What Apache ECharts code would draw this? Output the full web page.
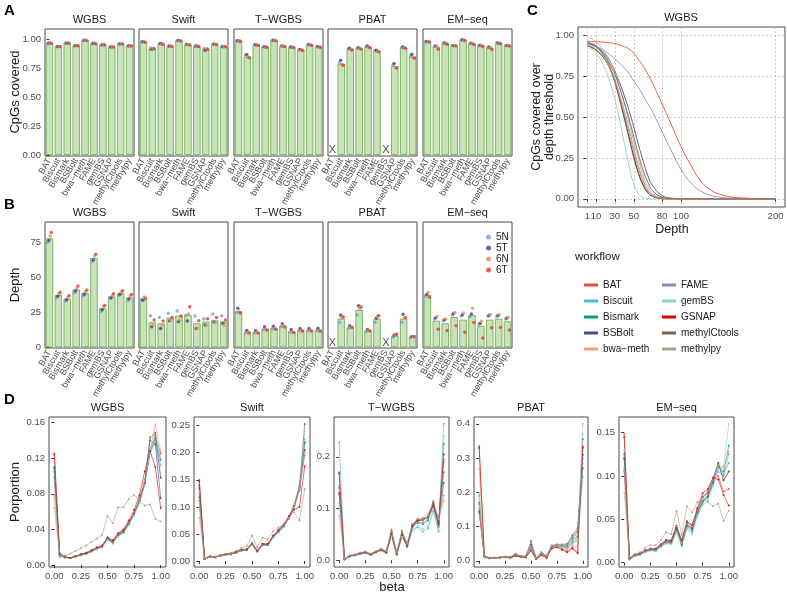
<!DOCTYPE html>
<html>
<head>
<meta charset="utf-8">
<script src="https://cdn.jsdelivr.net/npm/echarts@6/dist/echarts.min.js"></script>
<style>
html, body { margin: 0; padding: 0; background: #fff; }
#main { width: 787px; height: 596px; }
</style>
</head>
<body>
<div id="main"></div>
<script>
// ---- data ----
const workflows = ['BAT', 'Biscuit', 'Bismark', 'BSBolt', 'bwa\u2212meth', 'FAME', 'gemBS', 'GSNAP', 'methylCtools', 'methylpy'];
const datasets = ['WGBS', 'Swift', 'T\u2212WGBS', 'PBAT', 'EM\u2212seq'];
const samples = ['5N', '5T', '6N', '6T'];

// A: CpGs covered (bar = mean, points = samples 5N,5T,6N,6T)
const covWGBS = [0.966, 0.937, 0.966, 0.945, 0.99, 0.963, 0.951, 0.934, 0.96, 0.943];
const covWGBSPts = [
  [0.964, 0.935, 0.964, 0.943, 0.989, 0.961, 0.949, 0.932, 0.958, 0.941],
  [0.968, 0.938, 0.968, 0.947, 0.992, 0.965, 0.953, 0.935, 0.962, 0.945],
  [0.967, 0.938, 0.967, 0.946, 0.991, 0.964, 0.952, 0.935, 0.961, 0.944],
  [0.965, 0.937, 0.965, 0.944, 0.988, 0.962, 0.950, 0.934, 0.959, 0.942]
];
const covSwift = [0.977, 0.92, 0.96, 0.94, 0.988, 0.954, 0.94, 0.914, 0.957, 0.937];
const covSwiftPts = [
  [0.978, 0.925, 0.962, 0.941, 0.989, 0.957, 0.942, 0.92, 0.958, 0.94],
  [0.979, 0.913, 0.963, 0.942, 0.99, 0.956, 0.941, 0.905, 0.959, 0.935],
  [0.976, 0.923, 0.958, 0.939, 0.987, 0.952, 0.939, 0.918, 0.956, 0.938],
  [0.975, 0.919, 0.957, 0.938, 0.986, 0.951, 0.938, 0.913, 0.955, 0.935]
];
const covTWGBS = [0.986, 0.85, 0.951, 0.934, 0.99, 0.94, 0.931, 0.908, 0.951, 0.934];
const covTWGBSPts = [
  [0.987, 0.862, 0.952, 0.935, 0.991, 0.942, 0.933, 0.91, 0.953, 0.936],
  [0.988, 0.868, 0.953, 0.936, 0.992, 0.943, 0.934, 0.911, 0.954, 0.937],
  [0.985, 0.845, 0.95, 0.933, 0.989, 0.939, 0.93, 0.906, 0.95, 0.932],
  [0.984, 0.84, 0.949, 0.932, 0.988, 0.938, 0.929, 0.905, 0.949, 0.931]
];
const covPBAT = [null, 0.79, 0.914, 0.922, 0.934, 0.899, null, 0.769, 0.928, 0.85];
const covPBATPts = [
  [null, 0.8, 0.918, 0.925, 0.938, 0.903, null, 0.778, 0.931, 0.858],
  [null, 0.818, 0.922, 0.927, 0.941, 0.906, null, 0.79, 0.933, 0.87],
  [null, 0.78, 0.909, 0.919, 0.929, 0.895, null, 0.755, 0.925, 0.84],
  [null, 0.775, 0.907, 0.917, 0.928, 0.893, null, 0.753, 0.923, 0.838]
];
const covEMseq = [0.98, 0.937, 0.966, 0.945, 0.994, 0.963, 0.945, 0.928, 0.966, 0.945];
const covEMseqPts = [
  [0.981, 0.94, 0.968, 0.946, 0.995, 0.965, 0.947, 0.932, 0.967, 0.946],
  [0.982, 0.942, 0.969, 0.947, 0.996, 0.966, 0.948, 0.934, 0.968, 0.947],
  [0.98, 0.94, 0.967, 0.946, 0.994, 0.964, 0.946, 0.93, 0.967, 0.946],
  [0.976, 0.915, 0.958, 0.941, 0.989, 0.955, 0.938, 0.915, 0.961, 0.941]
];

// B: depth
const depWGBS = [78.2, 37.5, 35, 41.5, 39, 64, 28, 36.5, 38.8, 35.8];
const depWGBSPts = [
  [75.2, 35.6, 33, 39.3, 37, 61.5, 25.8, 34.8, 37.2, 33.8],
  [76.5, 36.5, 34, 40.3, 38, 62.5, 27, 35.5, 38, 34.7],
  [79.8, 38.6, 36, 42.5, 40, 65.4, 29.2, 37.3, 39.5, 36.8],
  [82.3, 39.3, 37, 44, 41.1, 66.6, 30, 38.4, 40.5, 37.9]
];
const depSwift = [34.4, 17.9, 17.2, 21.3, 22.7, 23.2, 17.2, 18.4, 19.3, 18.4];
const depSwiftPts = [
  [34.2, 22.7, 21.3, 24.4, 26, 23, 22.5, 20.5, 23.9, 22.7],
  [33.8, 14.8, 13.4, 19.1, 18.4, 18.9, 13.4, 16, 18.2, 17.2],
  [36.1, 16, 15.5, 19.6, 19.6, 23.9, 13.6, 15.8, 17.8, 15.6],
  [35.1, 19.6, 18.9, 21.3, 22.5, 29.1, 19.1, 20.5, 21.3, 19.6]
];
const depTWGBS = [25.8, 10.7, 10.7, 13.1, 13.6, 15.3, 11.2, 12.2, 12.2, 12.2];
const depTWGBSPts = [
  [25, 10.2, 10.3, 12.8, 13.2, 14.8, 10.8, 11.8, 11.8, 11.8],
  [28, 12, 11.8, 14.8, 15, 16.8, 12.8, 13.5, 13.5, 13.6],
  [25.5, 10.6, 10.6, 12.6, 13.3, 15.5, 10.8, 11.9, 12, 11.9],
  [24.5, 10.2, 10.2, 12.4, 12.9, 14.6, 10.6, 11.7, 11.6, 11.7]
];
const depPBAT = [null, 20.5, 14.1, 26.7, 11.7, 20.5, null, 8.4, 20.5, 7.4];
const depPBATPts = [
  [null, 17.9, 13.6, 23.2, 11.2, 17.9, null, 7.2, 17.9, 7],
  [null, 23.2, 15.5, 29.8, 12.8, 21, null, 8.8, 23.6, 7.8],
  [null, 21.2, 14, 27.9, 12, 22.2, null, 9.2, 20.8, 7.5],
  [null, 21.7, 14.3, 28.9, 11.6, 22.8, null, 9.4, 21.3, 7.7]
];
const depEMseq = [37.5, 19.1, 17.2, 21.7, 19.8, 23.2, 15.3, 19.8, 20.5, 18.6];
const depEMseqPts = [
  [37, 20.3, 19, 23.2, 22.5, 22, 16.5, 22.3, 22, 20.2],
  [38, 21.2, 19.8, 24.3, 23.4, 23.8, 17.2, 23, 22.8, 21],
  [39.2, 22, 20.3, 25, 24.6, 28, 18.7, 23.5, 23.4, 21.6],
  [35.8, 12.9, 12, 15.5, 10.7, 17.7, 6.7, 14.1, 14.3, 12.4]
];

// C: CpGs covered over depth threshold (WGBS)
const depthGrid = [1, 10, 20, 25, 30, 35, 40, 45, 50, 55, 60, 65, 70, 80, 90, 100, 110, 120, 130, 140, 160, 200];
const thrCurves = [
  [0.962, 0.96, 0.957, 0.953, 0.948, 0.94, 0.93, 0.915, 0.89, 0.85, 0.81, 0.76, 0.705, 0.58, 0.45, 0.32, 0.21, 0.115, 0.06, 0.03, 0.007, 0],
  [0.935, 0.91, 0.85, 0.8, 0.73, 0.64, 0.54, 0.43, 0.31, 0.2, 0.115, 0.055, 0.025, 0.004, 0.001, 0, 0, 0, 0, 0, 0, 0],
  [0.955, 0.93, 0.86, 0.8, 0.72, 0.61, 0.49, 0.37, 0.25, 0.15, 0.08, 0.035, 0.014, 0.002, 0, 0, 0, 0, 0, 0, 0, 0],
  [0.95, 0.93, 0.88, 0.84, 0.78, 0.71, 0.63, 0.54, 0.44, 0.33, 0.23, 0.14, 0.08, 0.02, 0.004, 0.001, 0, 0, 0, 0, 0, 0],
  [0.99, 0.96, 0.89, 0.84, 0.77, 0.68, 0.58, 0.47, 0.35, 0.24, 0.14, 0.075, 0.035, 0.007, 0.001, 0, 0, 0, 0, 0, 0, 0],
  [0.945, 0.93, 0.9, 0.88, 0.855, 0.83, 0.8, 0.765, 0.72, 0.68, 0.63, 0.58, 0.53, 0.41, 0.29, 0.18, 0.1, 0.05, 0.024, 0.011, 0.002, 0],
  [0.93, 0.89, 0.79, 0.71, 0.61, 0.48, 0.34, 0.2, 0.09, 0.03, 0.008, 0.002, 0, 0, 0, 0, 0, 0, 0, 0, 0, 0],
  [0.935, 0.91, 0.845, 0.79, 0.71, 0.61, 0.5, 0.38, 0.26, 0.16, 0.085, 0.04, 0.016, 0.002, 0, 0, 0, 0, 0, 0, 0, 0],
  [0.955, 0.935, 0.87, 0.82, 0.76, 0.68, 0.59, 0.49, 0.38, 0.27, 0.17, 0.1, 0.05, 0.01, 0.002, 0, 0, 0, 0, 0, 0, 0],
  [0.94, 0.915, 0.85, 0.795, 0.72, 0.63, 0.52, 0.405, 0.29, 0.185, 0.1, 0.05, 0.02, 0.003, 0, 0, 0, 0, 0, 0, 0, 0]
];
const depthTicks = [1, 10, 30, 50, 80, 100, 200];

// D: beta distribution, one row per workflow
const betaBins = [0, 0.05, 0.1, 0.15, 0.2, 0.25, 0.3, 0.35, 0.4, 0.45, 0.5, 0.55, 0.6, 0.65, 0.7, 0.75, 0.8, 0.85, 0.9, 0.95, 1];
const betaWGBS = [
  [0.125, 0.013, 0.009, 0.008, 0.010, 0.012, 0.013, 0.016, 0.019, 0.022, 0.031, 0.027, 0.035, 0.039, 0.048, 0.059, 0.074, 0.095, 0.130, 0.145, 0.125],
  [0.100, 0.011, 0.009, 0.008, 0.010, 0.011, 0.013, 0.015, 0.018, 0.021, 0.029, 0.025, 0.033, 0.036, 0.045, 0.056, 0.070, 0.090, 0.125, 0.138, 0.112],
  [0.105, 0.012, 0.009, 0.008, 0.010, 0.012, 0.013, 0.016, 0.019, 0.021, 0.030, 0.025, 0.034, 0.037, 0.046, 0.057, 0.071, 0.091, 0.127, 0.142, 0.118],
  [0.110, 0.012, 0.009, 0.008, 0.010, 0.012, 0.013, 0.016, 0.019, 0.021, 0.030, 0.026, 0.034, 0.038, 0.047, 0.058, 0.072, 0.093, 0.140, 0.135, 0.075],
  [0.064, 0.010, 0.009, 0.008, 0.010, 0.012, 0.013, 0.016, 0.019, 0.022, 0.031, 0.027, 0.035, 0.039, 0.048, 0.059, 0.073, 0.094, 0.130, 0.158, 0.128],
  [0.098, 0.012, 0.009, 0.008, 0.010, 0.012, 0.013, 0.016, 0.019, 0.021, 0.030, 0.026, 0.034, 0.038, 0.047, 0.058, 0.072, 0.092, 0.128, 0.140, 0.098],
  [0.095, 0.009, 0.008, 0.008, 0.010, 0.011, 0.012, 0.015, 0.018, 0.020, 0.028, 0.024, 0.032, 0.036, 0.045, 0.056, 0.070, 0.091, 0.130, 0.148, 0.120],
  [0.124, 0.013, 0.010, 0.008, 0.010, 0.012, 0.014, 0.017, 0.020, 0.022, 0.031, 0.028, 0.036, 0.040, 0.050, 0.062, 0.078, 0.105, 0.128, 0.110, 0.064],
  [0.108, 0.012, 0.009, 0.008, 0.010, 0.012, 0.013, 0.016, 0.019, 0.021, 0.030, 0.026, 0.034, 0.038, 0.047, 0.058, 0.072, 0.092, 0.143, 0.148, 0.098],
  [0.078, 0.010, 0.011, 0.013, 0.016, 0.019, 0.022, 0.026, 0.030, 0.034, 0.055, 0.047, 0.065, 0.065, 0.074, 0.079, 0.072, 0.067, 0.068, 0.052, 0.049]
];
const betaSwift = [
  [0.150, 0.004, 0.008, 0.007, 0.010, 0.012, 0.013, 0.016, 0.020, 0.021, 0.032, 0.018, 0.031, 0.030, 0.046, 0.056, 0.066, 0.082, 0.102, 0.133, 0.220],
  [0.125, 0.004, 0.008, 0.007, 0.010, 0.011, 0.012, 0.015, 0.019, 0.020, 0.030, 0.017, 0.029, 0.029, 0.043, 0.053, 0.063, 0.078, 0.100, 0.132, 0.225],
  [0.118, 0.004, 0.008, 0.007, 0.010, 0.012, 0.013, 0.016, 0.020, 0.021, 0.031, 0.018, 0.030, 0.030, 0.044, 0.054, 0.064, 0.079, 0.101, 0.133, 0.218],
  [0.140, 0.004, 0.008, 0.007, 0.010, 0.012, 0.013, 0.016, 0.020, 0.021, 0.031, 0.018, 0.030, 0.030, 0.045, 0.055, 0.065, 0.080, 0.102, 0.135, 0.205],
  [0.080, 0.004, 0.008, 0.007, 0.010, 0.012, 0.013, 0.016, 0.020, 0.022, 0.033, 0.019, 0.031, 0.031, 0.046, 0.057, 0.067, 0.083, 0.105, 0.137, 0.200],
  [0.112, 0.004, 0.008, 0.007, 0.010, 0.012, 0.013, 0.016, 0.020, 0.021, 0.031, 0.018, 0.030, 0.030, 0.045, 0.055, 0.065, 0.080, 0.100, 0.130, 0.195],
  [0.128, 0.004, 0.008, 0.007, 0.010, 0.011, 0.012, 0.015, 0.019, 0.020, 0.030, 0.017, 0.029, 0.029, 0.043, 0.053, 0.063, 0.079, 0.101, 0.134, 0.240],
  [0.148, 0.005, 0.009, 0.008, 0.011, 0.013, 0.014, 0.017, 0.021, 0.022, 0.033, 0.019, 0.032, 0.032, 0.047, 0.058, 0.068, 0.083, 0.095, 0.100, 0.175],
  [0.135, 0.004, 0.008, 0.007, 0.010, 0.012, 0.013, 0.016, 0.020, 0.021, 0.031, 0.018, 0.030, 0.030, 0.045, 0.055, 0.065, 0.080, 0.102, 0.138, 0.253],
  [0.100, 0.005, 0.009, 0.008, 0.011, 0.013, 0.015, 0.019, 0.024, 0.028, 0.047, 0.025, 0.043, 0.040, 0.055, 0.062, 0.068, 0.080, 0.090, 0.075, 0.133]
];
const betaTWGBS = [
  [0.170, 0.002, 0.008, 0.010, 0.013, 0.015, 0.011, 0.016, 0.020, 0.015, 0.052, 0.012, 0.050, 0.028, 0.066, 0.077, 0.080, 0.085, 0.108, 0.070, 0.190],
  [0.228, 0.002, 0.008, 0.009, 0.012, 0.014, 0.010, 0.015, 0.019, 0.014, 0.048, 0.010, 0.045, 0.025, 0.058, 0.064, 0.055, 0.062, 0.095, 0.055, 0.264],
  [0.140, 0.002, 0.008, 0.010, 0.013, 0.015, 0.011, 0.016, 0.020, 0.015, 0.052, 0.012, 0.050, 0.027, 0.064, 0.072, 0.070, 0.077, 0.105, 0.065, 0.225],
  [0.130, 0.002, 0.008, 0.010, 0.013, 0.015, 0.011, 0.016, 0.020, 0.016, 0.054, 0.013, 0.052, 0.029, 0.067, 0.078, 0.078, 0.083, 0.110, 0.068, 0.150],
  [0.086, 0.002, 0.008, 0.010, 0.014, 0.016, 0.012, 0.017, 0.021, 0.016, 0.055, 0.013, 0.053, 0.030, 0.070, 0.080, 0.082, 0.090, 0.112, 0.080, 0.115],
  [0.145, 0.002, 0.008, 0.010, 0.013, 0.015, 0.011, 0.016, 0.020, 0.015, 0.051, 0.012, 0.049, 0.028, 0.065, 0.074, 0.072, 0.080, 0.106, 0.066, 0.195],
  [0.135, 0.002, 0.007, 0.009, 0.012, 0.014, 0.010, 0.015, 0.019, 0.014, 0.047, 0.010, 0.046, 0.025, 0.059, 0.066, 0.060, 0.066, 0.098, 0.058, 0.240],
  [0.168, 0.002, 0.008, 0.010, 0.013, 0.015, 0.011, 0.016, 0.020, 0.015, 0.050, 0.012, 0.049, 0.027, 0.066, 0.076, 0.079, 0.084, 0.106, 0.072, 0.205],
  [0.128, 0.003, 0.009, 0.011, 0.014, 0.016, 0.012, 0.017, 0.022, 0.017, 0.057, 0.014, 0.055, 0.031, 0.069, 0.079, 0.077, 0.085, 0.112, 0.075, 0.170],
  [0.110, 0.003, 0.009, 0.011, 0.015, 0.017, 0.013, 0.018, 0.023, 0.018, 0.060, 0.015, 0.058, 0.033, 0.070, 0.080, 0.078, 0.085, 0.115, 0.082, 0.125]
];
const betaPBAT = [
  [0.335, 0.012, 0.008, 0.008, 0.009, 0.011, 0.009, 0.014, 0.012, 0.010, 0.035, 0.006, 0.018, 0.010, 0.038, 0.042, 0.035, 0.028, 0.040, 0.025, 0.335],
  [0.190, 0.010, 0.007, 0.008, 0.009, 0.010, 0.008, 0.015, 0.011, 0.010, 0.030, 0.005, 0.017, 0.010, 0.036, 0.040, 0.038, 0.036, 0.050, 0.060, 0.245],
  [0.170, 0.011, 0.008, 0.008, 0.009, 0.011, 0.009, 0.016, 0.012, 0.011, 0.040, 0.007, 0.020, 0.012, 0.040, 0.044, 0.040, 0.040, 0.055, 0.070, 0.355],
  [0.145, 0.012, 0.008, 0.008, 0.010, 0.011, 0.010, 0.018, 0.013, 0.012, 0.048, 0.008, 0.022, 0.013, 0.042, 0.046, 0.044, 0.046, 0.065, 0.085, 0.310],
  [0.270, 0.011, 0.008, 0.008, 0.009, 0.011, 0.009, 0.014, 0.012, 0.010, 0.033, 0.006, 0.018, 0.010, 0.039, 0.044, 0.040, 0.034, 0.045, 0.040, 0.400],
  [0.165, 0.012, 0.008, 0.008, 0.010, 0.011, 0.010, 0.016, 0.012, 0.011, 0.042, 0.007, 0.021, 0.012, 0.041, 0.045, 0.042, 0.042, 0.058, 0.075, 0.300],
  [0.195, 0.010, 0.007, 0.008, 0.009, 0.010, 0.008, 0.015, 0.011, 0.010, 0.030, 0.006, 0.017, 0.010, 0.036, 0.041, 0.039, 0.037, 0.052, 0.062, 0.370],
  [0.330, 0.013, 0.009, 0.009, 0.010, 0.012, 0.010, 0.014, 0.012, 0.010, 0.030, 0.005, 0.016, 0.009, 0.036, 0.040, 0.032, 0.025, 0.035, 0.022, 0.330],
  [0.140, 0.014, 0.009, 0.009, 0.010, 0.012, 0.011, 0.020, 0.014, 0.013, 0.058, 0.009, 0.025, 0.015, 0.045, 0.048, 0.048, 0.050, 0.075, 0.095, 0.270],
  [0.150, 0.013, 0.009, 0.009, 0.010, 0.012, 0.011, 0.021, 0.015, 0.013, 0.052, 0.008, 0.024, 0.014, 0.044, 0.047, 0.046, 0.048, 0.070, 0.090, 0.285]
];
const betaEMseq = [
  [0.148, 0.005, 0.008, 0.010, 0.013, 0.015, 0.015, 0.020, 0.025, 0.024, 0.040, 0.025, 0.045, 0.040, 0.060, 0.075, 0.080, 0.095, 0.100, 0.082, 0.085],
  [0.110, 0.004, 0.008, 0.009, 0.012, 0.014, 0.014, 0.018, 0.022, 0.022, 0.036, 0.020, 0.040, 0.035, 0.055, 0.068, 0.075, 0.090, 0.105, 0.100, 0.125],
  [0.120, 0.004, 0.008, 0.010, 0.013, 0.015, 0.014, 0.019, 0.023, 0.023, 0.038, 0.021, 0.042, 0.037, 0.057, 0.070, 0.076, 0.092, 0.112, 0.105, 0.135],
  [0.120, 0.005, 0.008, 0.010, 0.013, 0.015, 0.015, 0.020, 0.024, 0.024, 0.040, 0.022, 0.044, 0.039, 0.058, 0.071, 0.077, 0.093, 0.115, 0.095, 0.105],
  [0.081, 0.005, 0.009, 0.010, 0.014, 0.016, 0.016, 0.021, 0.026, 0.025, 0.042, 0.024, 0.047, 0.042, 0.062, 0.075, 0.082, 0.098, 0.112, 0.110, 0.128],
  [0.107, 0.004, 0.008, 0.010, 0.013, 0.015, 0.015, 0.020, 0.024, 0.023, 0.040, 0.022, 0.044, 0.038, 0.058, 0.071, 0.078, 0.094, 0.110, 0.102, 0.115],
  [0.130, 0.004, 0.007, 0.009, 0.012, 0.014, 0.013, 0.018, 0.022, 0.021, 0.035, 0.018, 0.039, 0.033, 0.054, 0.066, 0.072, 0.088, 0.108, 0.110, 0.160],
  [0.145, 0.005, 0.009, 0.010, 0.014, 0.016, 0.016, 0.021, 0.026, 0.025, 0.040, 0.026, 0.047, 0.043, 0.063, 0.080, 0.085, 0.098, 0.096, 0.078, 0.066],
  [0.125, 0.005, 0.009, 0.011, 0.014, 0.016, 0.016, 0.021, 0.026, 0.026, 0.043, 0.025, 0.048, 0.043, 0.062, 0.076, 0.082, 0.098, 0.115, 0.095, 0.105],
  [0.105, 0.006, 0.010, 0.012, 0.017, 0.020, 0.020, 0.026, 0.035, 0.033, 0.060, 0.032, 0.065, 0.058, 0.070, 0.075, 0.070, 0.065, 0.068, 0.048, 0.060]
];
const betaTicks = [0, 0.25, 0.5, 0.75, 1];
const covTicks = [0, 0.25, 0.5, 0.75, 1];
const depTicks = [0, 25, 50, 75];
const propTicks = [
  [0, 0.04, 0.08, 0.12, 0.16],
  [0, 0.05, 0.1, 0.15, 0.2, 0.25],
  [0, 0.1, 0.2],
  [0, 0.1, 0.2, 0.3, 0.4],
  [0, 0.05, 0.1, 0.15]
];
const propDigits = [2, 2, 1, 1, 2];

// ---- styling / layout ----
const wfColors = ['#E64B35', '#4DBBD5', '#00A087', '#3C5488', '#F39B7F', '#8491B4', '#91D1C2', '#DC0000', '#7E6148', '#B09C85'];
const sampleColors = ['#7a9fd6', '#37478f', '#f08c5a', '#d9412e'];
const sampleShift = [-0.21, -0.07, 0.07, 0.21];
const barLeft = [45, 139, 234, 328, 423];
const lineLeft = [49, 194, 334, 474, 619];
const lineWidth = [117, 116, 115, 114, 115];
const propRange = [[-0.002, 0.166], [-0.011, 0.266], [-0.013, 0.277], [-0.018, 0.42], [-0.005, 0.168]];
const FONT = 'Liberation Sans, Arial, Helvetica, sans-serif';
const tickCol = '#4d4d4d';

const grids = [], xAxes = [], yAxes = [], series = [], graphics = [];

function txt(x, y, text, size, rot) {
  graphics.push({
    type: 'text', x: x, y: y, rotation: rot || 0, silent: true,
    style: { text: text, fontSize: size, fontFamily: FONT, fill: '#1a1a1a', align: 'center', verticalAlign: 'middle' }
  });
}

function addBarFacets(top, height, yMin, yMax, yTicks, yDigits, bars, pts, markY) {
  bars.forEach((vals, k) => {
    const g = grids.length;
    grids.push({ left: barLeft[k], top: top, width: 89, height: height, show: true, borderColor: '#4a4a4a', borderWidth: 1, backgroundColor: 'transparent' });
    const xc = xAxes.length;
    xAxes.push({
      type: 'category', gridIndex: g, data: workflows,
      axisLine: { show: false },
      axisTick: { alignWithLabel: true, length: 3, lineStyle: { color: '#333' } },
      axisLabel: { rotate: 60, interval: 0, fontSize: 9, color: tickCol, margin: 3, fontFamily: FONT }
    });
    xAxes.push({ type: 'value', gridIndex: g, min: -0.5, max: 9.5, show: false });
    const yi = yAxes.length;
    yAxes.push({
      type: 'value', gridIndex: g, min: yMin, max: yMax,
      splitLine: { show: false }, axisLine: { show: false },
      axisTick: { show: k === 0, length: 3, customValues: yTicks, lineStyle: { color: '#333' } },
      axisLabel: { show: k === 0, customValues: yTicks, fontSize: 9.5, color: tickCol, margin: 4, fontFamily: FONT, formatter: v => v.toFixed(yDigits) }
    });
    series.push({
      type: 'bar', xAxisIndex: xc, yAxisIndex: yi, data: vals, barCategoryGap: '16%', silent: true,
      itemStyle: { color: '#c8e3b8', borderColor: '#74b058', borderWidth: 0.9 }
    });
    pts[k].forEach((arr, s) => {
      series.push({
        type: 'scatter', name: samples[s], xAxisIndex: xc + 1, yAxisIndex: yi, symbolSize: 3.5, silent: true,
        itemStyle: { color: sampleColors[s] },
        data: arr.map((v, i) => v == null ? null : [i + sampleShift[s], v]).filter(d => d)
      });
    });
    const miss = vals.map((v, i) => v == null ? [i, markY] : null).filter(d => d);
    if (miss.length) {
      series.push({
        type: 'scatter', xAxisIndex: xc + 1, yAxisIndex: yi, symbolSize: 1, silent: true,
        itemStyle: { color: 'rgba(0,0,0,0)' },
        label: { show: true, position: 'inside', formatter: 'X', fontSize: 11, color: '#1a1a1a', fontFamily: FONT },
        data: miss
      });
    }
  });
}

// A
addBarFacets(29, 127, -0.0086, 1.089, covTicks, 2,
  [covWGBS, covSwift, covTWGBS, covPBAT, covEMseq],
  [covWGBSPts, covSwiftPts, covTWGBSPts, covPBATPts, covEMseqPts], 0.045);
// B
addBarFacets(222, 126, -0.5, 89.8, depTicks, 0,
  [depWGBS, depSwift, depTWGBS, depPBAT, depEMseq],
  [depWGBSPts, depSwiftPts, depTWGBSPts, depPBATPts, depEMseqPts], 3.2);

// C
(function () {
  const g = grids.length;
  grids.push({ left: 578, top: 27, width: 207, height: 180, show: true, borderColor: '#4a4a4a', borderWidth: 1, backgroundColor: 'transparent' });
  const xi = xAxes.length, yi = yAxes.length;
  const grid = { show: true, lineStyle: { color: '#b5b5b5', width: 0.7, type: [2, 2] } };
  xAxes.push({
    type: 'value', gridIndex: g, min: -9, max: 210, axisLine: { show: false }, splitLine: grid,
    axisTick: { customValues: depthTicks, length: 3, lineStyle: { color: '#333' } },
    axisLabel: { customValues: depthTicks, fontSize: 9.5, color: tickCol, margin: 4, fontFamily: FONT }
  });
  yAxes.push({
    type: 'value', gridIndex: g, min: -0.05, max: 1.05, axisLine: { show: false }, splitLine: grid,
    axisTick: { customValues: covTicks, length: 3, lineStyle: { color: '#333' } },
    axisLabel: { customValues: covTicks, fontSize: 9.5, color: tickCol, margin: 4, fontFamily: FONT, formatter: v => v.toFixed(2) }
  });
  thrCurves.forEach((c, w) => {
    series.push({
      type: 'line', name: workflows[w], xAxisIndex: xi, yAxisIndex: yi, smooth: 0.45,
      showSymbol: false, silent: true, color: wfColors[w],
      lineStyle: { width: 1, opacity: 0.9 },
      data: depthGrid.map((d, i) => [d, c[i]])
    });
  });
})();

// D
[betaWGBS, betaSwift, betaTWGBS, betaPBAT, betaEMseq].forEach((panel, k) => {
  const g = grids.length;
  grids.push({ left: lineLeft[k], top: 417, width: lineWidth[k], height: 150, show: true, borderColor: '#4a4a4a', borderWidth: 1, backgroundColor: 'transparent' });
  const xi = xAxes.length, yi = yAxes.length;
  xAxes.push({
    type: 'value', gridIndex: g, min: -0.05, max: 1.05, axisLine: { show: false }, splitLine: { show: false },
    axisTick: { customValues: betaTicks, length: 3, lineStyle: { color: '#333' } },
    axisLabel: { customValues: betaTicks, fontSize: 9.5, color: tickCol, margin: 4, fontFamily: FONT, formatter: v => v.toFixed(2) }
  });
  yAxes.push({
    type: 'value', gridIndex: g, min: propRange[k][0], max: propRange[k][1], axisLine: { show: false }, splitLine: { show: false },
    axisTick: { customValues: propTicks[k], length: 3, lineStyle: { color: '#333' } },
    axisLabel: { customValues: propTicks[k], fontSize: 9.5, color: tickCol, margin: 4, fontFamily: FONT, formatter: v => v.toFixed(propDigits[k]) }
  });
  panel.forEach((row, w) => {
    series.push({
      type: 'line', name: workflows[w], xAxisIndex: xi, yAxisIndex: yi, silent: true,
      symbol: 'circle', symbolSize: 2, showSymbol: true, color: wfColors[w],
      lineStyle: { width: 0.7, opacity: 0.85 }, itemStyle: { opacity: 0.85 },
      data: betaBins.map((b, i) => [b, row[i]])
    });
  });
});

// text: panel letters, strips, axis titles
[['A', 4, 11], ['B', 4, 205], ['C', 527, 11], ['D', 4, 400]].forEach(p => {
  graphics.push({ type: 'text', x: p[1], y: p[2], silent: true, style: { text: p[0], fontSize: 15, fontWeight: 'bold', fontFamily: FONT, fill: '#000', align: 'left', verticalAlign: 'middle' } });
});
datasets.forEach((d, k) => {
  txt(barLeft[k] + 44.5, 20, d, 11);
  txt(barLeft[k] + 44.5, 213, d, 11);
  txt(lineLeft[k] + lineWidth[k] / 2, 408, d, 11);
});
txt(681, 18, 'WGBS', 11);
txt(15, 92, 'CpGs covered', 13, Math.PI / 2);
txt(15, 285, 'Depth', 13, Math.PI / 2);
txt(543, 117, 'CpGs covered over\ndepth threshold', 12.5, Math.PI / 2);
txt(672, 230, 'Depth', 12.5);
txt(15, 492, 'Porportion', 13, Math.PI / 2);
txt(392, 587, 'beta', 13);
graphics.push({ type: 'text', x: 575, y: 257, silent: true, style: { text: 'workflow', fontSize: 11.5, fontFamily: FONT, fill: '#1a1a1a', align: 'left', verticalAlign: 'middle' } });

const legendText = { fontSize: 10, color: '#1a1a1a', fontFamily: FONT };
const option = {
  animation: false,
  backgroundColor: '#fff',
  textStyle: { fontFamily: FONT },
  grid: grids, xAxis: xAxes, yAxis: yAxes, series: series,
  graphic: graphics,
  legend: [
    { data: samples, orient: 'vertical', left: 481, top: 227, icon: 'circle', itemWidth: 5, itemHeight: 5, itemGap: 1, textStyle: legendText, selectedMode: false },
    { data: workflows.slice(0, 5), orient: 'vertical', left: 579, top: 275, icon: 'rect', itemWidth: 14, itemHeight: 3, itemGap: 6, textStyle: legendText, selectedMode: false },
    { data: workflows.slice(5), orient: 'vertical', left: 657, top: 275, icon: 'rect', itemWidth: 14, itemHeight: 3, itemGap: 6, textStyle: legendText, selectedMode: false }
  ]
};

const chart = echarts.init(document.getElementById('main'));
chart.setOption(option);
</script>
</body>
</html>
